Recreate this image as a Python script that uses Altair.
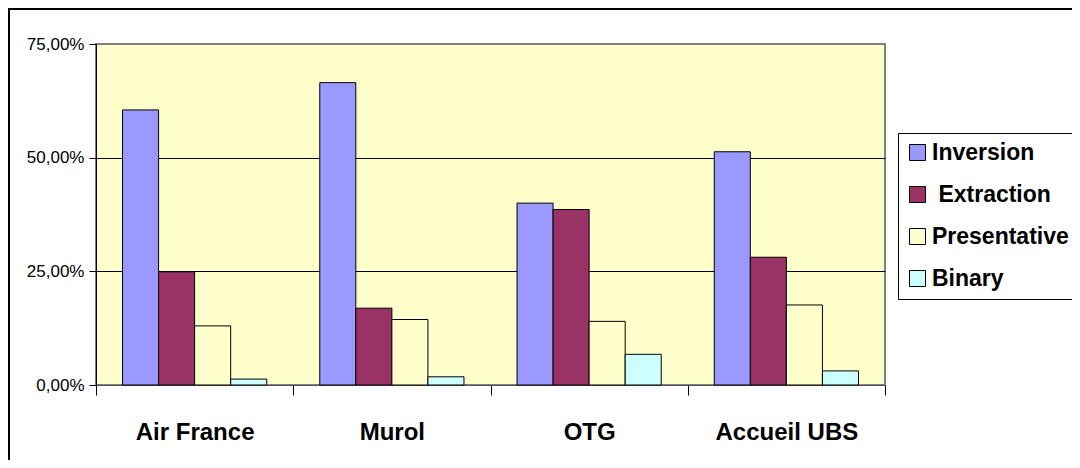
import altair as alt
import pandas as pd

companies = ["Air France", "Murol", "OTG", "Accueil UBS"]
methods = ["Inversion", "\u200b\u00a0Extraction", "Presentative", "Binary"]
colors = ["#9999FF", "#993366", "#FFFFCC", "#CCFFFF"]

inversion = [0.605, 0.665, 0.400, 0.513]
extraction = [0.249, 0.169, 0.386, 0.281]
presentative = [0.130, 0.144, 0.140, 0.176]
binary = [0.013, 0.018, 0.0675, 0.031]

y_ticks = [0, 0.25, 0.5, 0.75]

rows = []
for series, name in zip([inversion, extraction, presentative, binary], methods):
    for c, v in zip(companies, series):
        rows.append({"company": c, "method": name, "value": v})
df = pd.DataFrame(rows)

W, H = 789, 341

bars = alt.Chart(df).mark_bar(stroke="black", strokeWidth=1).encode(
    x=alt.X("company:N", sort=companies,
            scale=alt.Scale(paddingInner=0, paddingOuter=0),
            axis=alt.Axis(title=None, labelAngle=0, tickBand="extent",
                          tickSize=10, tickColor="black", domainColor="#555555",
                          labelFont="Liberation Sans", labelFontWeight="bold",
                          labelFontSize=24, labelColor="black", labelPadding=25)),
    xOffset=alt.XOffset("method:N", sort=methods,
                        scale=alt.Scale(domain=methods, paddingInner=0, paddingOuter=0.736)),
    y=alt.Y("value:Q", scale=alt.Scale(domain=[0, 0.75], nice=False),
            axis=alt.Axis(title=None, values=y_ticks,
                          labelExpr="replace(format(datum.value, '.2%'), '.', ',')",
                          grid=True,
                          gridColor=alt.condition("datum.value >= 0.74", alt.value("#808080"), alt.value("black")),
                          gridWidth=1,
                          domainColor="black", tickColor="black", tickSize=7,
                          labelFont="Liberation Sans", labelFontSize=17,
                          labelColor="black", labelPadding=5)),
    color=alt.Color("method:N", sort=methods,
                    scale=alt.Scale(domain=methods, range=colors),
                    legend=alt.Legend(title=None, orient="none", legendX=802, legendY=89,
                                      symbolType="square", symbolSize=256,
                                      symbolStrokeColor="black", symbolStrokeWidth=1,
                                      labelFont="Liberation Sans", labelFontWeight="bold",
                                      labelFontSize=23, labelColor="black",
                                      rowPadding=18, padding=8, labelOffset=3,
                                      strokeColor="black", fillColor="white",
                                      labelLimit=300)),
)

frame = alt.Chart(pd.DataFrame({"k": [0]})).mark_rect(
    fill=None, stroke="black", strokeWidth=2
).encode(x=alt.value(-87), x2=alt.value(1200), y=alt.value(-35), y2=alt.value(600))

chart = alt.layer(frame, bars).properties(
    width=W, height=H,
    autosize=alt.AutoSizeParams(type="none"),
    padding={"left": 88, "top": 36, "right": 187, "bottom": 75},
    background="white",
).configure_view(
    fill="#FFFFCC", stroke="#808080", strokeWidth=2
)

chart.save("out.html", embed_options={"renderer": "svg", "actions": False})
